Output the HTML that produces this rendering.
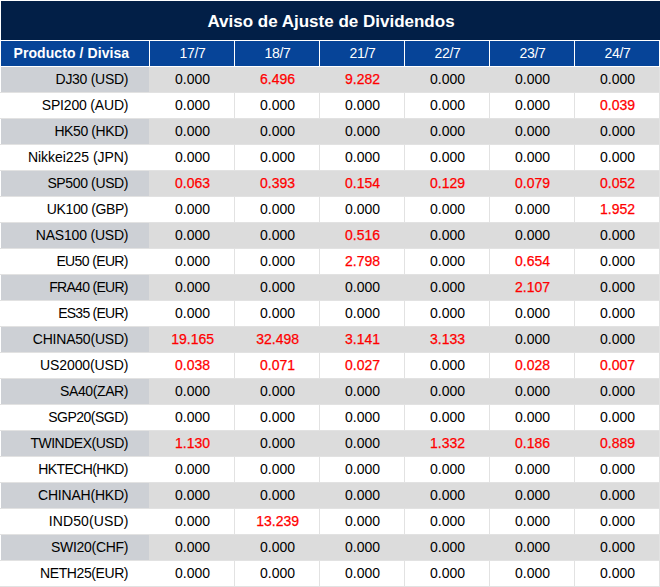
<!DOCTYPE html>
<html><head><meta charset="utf-8"><style>
*{margin:0;padding:0;box-sizing:border-box}
html,body{width:660px;height:587px;background:#fff;overflow:hidden}
body{position:relative;font-family:"Liberation Sans",sans-serif}
.a{position:absolute}
.title{left:1px;top:1px;width:659px;height:39px;background:#021f47}
.tt{position:absolute;left:0;width:660px;top:0;text-align:center;color:#fff;font-weight:bold;font-size:17px;line-height:1;white-space:nowrap}
.hb{background:#064498;top:41px;height:25px}
.ht{position:absolute;left:0;right:0;text-align:center;color:#fff;font-size:14px;line-height:1;white-space:nowrap}
.g0{background:#cdd0d5}
.g1{background:#dcdcdc}
.vl{background:#e2e2e2;width:1px}
.hl{background:#e2e2e2}
.pn{position:absolute;right:21px;color:#000000;font-size:14px;line-height:1;white-space:nowrap;letter-spacing:-0.3px}
.v{position:absolute;left:0;width:84px;text-align:center;color:#000000;font-size:14px;line-height:1;white-space:nowrap}
.r{color:#ff0000;-webkit-text-stroke:0.25px #ff0000}
</style></head><body>
<div class="a title"><div class="tt" style="top:11.61px">Aviso de Ajuste de Dividendos</div></div>
<div class="a hb" style="left:1px;width:148px"><div class="ht" style="font-weight:bold;text-align:right;right:19.8px;left:auto;letter-spacing:0.08px;top:4.95px">Producto / Divisa</div></div>
<div class="a hb" style="left:150px;width:84px"><div class="ht" style="left:1.2px;top:4.85px;letter-spacing:-0.3px">17/7</div></div>
<div class="a hb" style="left:235px;width:84px"><div class="ht" style="left:1.2px;top:4.85px;letter-spacing:-0.3px">18/7</div></div>
<div class="a hb" style="left:320px;width:84px"><div class="ht" style="left:1.2px;top:4.85px;letter-spacing:-0.3px">21/7</div></div>
<div class="a hb" style="left:405px;width:84px"><div class="ht" style="left:1.2px;top:4.85px;letter-spacing:-0.3px">22/7</div></div>
<div class="a hb" style="left:490px;width:84px"><div class="ht" style="left:1.2px;top:4.85px;letter-spacing:-0.3px">23/7</div></div>
<div class="a hb" style="left:575px;width:84px"><div class="ht" style="left:1.2px;top:4.85px;letter-spacing:-0.3px">24/7</div></div>
<div class="a vl" style="left:234px;top:67px;height:520px"></div>
<div class="a vl" style="left:319px;top:67px;height:520px"></div>
<div class="a vl" style="left:404px;top:67px;height:520px"></div>
<div class="a vl" style="left:489px;top:67px;height:520px"></div>
<div class="a vl" style="left:574px;top:67px;height:520px"></div>
<div class="a vl" style="left:659px;top:67px;height:520px"></div>
<div class="a hl" style="left:0;top:92px;width:660px;height:1px"></div>
<div class="a hl" style="left:0;top:118px;width:660px;height:1px"></div>
<div class="a hl" style="left:0;top:144px;width:660px;height:1px"></div>
<div class="a hl" style="left:0;top:170px;width:660px;height:1px"></div>
<div class="a hl" style="left:0;top:196px;width:660px;height:1px"></div>
<div class="a hl" style="left:0;top:222px;width:660px;height:1px"></div>
<div class="a hl" style="left:0;top:248px;width:660px;height:1px"></div>
<div class="a hl" style="left:0;top:274px;width:660px;height:1px"></div>
<div class="a hl" style="left:0;top:300px;width:660px;height:1px"></div>
<div class="a hl" style="left:0;top:326px;width:660px;height:1px"></div>
<div class="a hl" style="left:0;top:352px;width:660px;height:1px"></div>
<div class="a hl" style="left:0;top:378px;width:660px;height:1px"></div>
<div class="a hl" style="left:0;top:404px;width:660px;height:1px"></div>
<div class="a hl" style="left:0;top:430px;width:660px;height:1px"></div>
<div class="a hl" style="left:0;top:456px;width:660px;height:1px"></div>
<div class="a hl" style="left:0;top:482px;width:660px;height:1px"></div>
<div class="a hl" style="left:0;top:508px;width:660px;height:1px"></div>
<div class="a hl" style="left:0;top:534px;width:660px;height:1px"></div>
<div class="a hl" style="left:0;top:560px;width:660px;height:1px"></div>
<div class="a hl" style="left:0;top:586px;width:660px;height:1px"></div>
<div class="a g0" style="left:1px;top:67px;width:148px;height:25px"></div>
<div class="a g1" style="left:149px;top:67px;width:510px;height:25px"></div>
<div class="pn" style="right:531.78px;top:72.45px;letter-spacing:-0.278px">DJ30 (USD)</div>
<div class="v" style="left:150.6px;top:72.45px">0.000</div>
<div class="v r" style="left:235.6px;top:72.45px">6.496</div>
<div class="v r" style="left:320.6px;top:72.45px">9.282</div>
<div class="v" style="left:405.6px;top:72.45px">0.000</div>
<div class="v" style="left:490.6px;top:72.45px">0.000</div>
<div class="v" style="left:575.6px;top:72.45px">0.000</div>
<div class="pn" style="right:531.68px;top:98.45px;letter-spacing:-0.182px">SPI200 (AUD)</div>
<div class="v" style="left:150.6px;top:98.45px">0.000</div>
<div class="v" style="left:235.6px;top:98.45px">0.000</div>
<div class="v" style="left:320.6px;top:98.45px">0.000</div>
<div class="v" style="left:405.6px;top:98.45px">0.000</div>
<div class="v" style="left:490.6px;top:98.45px">0.000</div>
<div class="v r" style="left:575.6px;top:98.45px">0.039</div>
<div class="a g0" style="left:1px;top:119px;width:148px;height:25px"></div>
<div class="a g1" style="left:149px;top:119px;width:510px;height:25px"></div>
<div class="pn" style="right:531.91px;top:124.45px;letter-spacing:-0.411px">HK50 (HKD)</div>
<div class="v" style="left:150.6px;top:124.45px">0.000</div>
<div class="v" style="left:235.6px;top:124.45px">0.000</div>
<div class="v" style="left:320.6px;top:124.45px">0.000</div>
<div class="v" style="left:405.6px;top:124.45px">0.000</div>
<div class="v" style="left:490.6px;top:124.45px">0.000</div>
<div class="v" style="left:575.6px;top:124.45px">0.000</div>
<div class="pn" style="right:531.54px;top:150.45px;letter-spacing:-0.043px">Nikkei225 (JPN)</div>
<div class="v" style="left:150.6px;top:150.45px">0.000</div>
<div class="v" style="left:235.6px;top:150.45px">0.000</div>
<div class="v" style="left:320.6px;top:150.45px">0.000</div>
<div class="v" style="left:405.6px;top:150.45px">0.000</div>
<div class="v" style="left:490.6px;top:150.45px">0.000</div>
<div class="v" style="left:575.6px;top:150.45px">0.000</div>
<div class="a g0" style="left:1px;top:171px;width:148px;height:25px"></div>
<div class="a g1" style="left:149px;top:171px;width:510px;height:25px"></div>
<div class="pn" style="right:531.87px;top:176.45px;letter-spacing:-0.370px">SP500 (USD)</div>
<div class="v r" style="left:150.6px;top:176.45px">0.063</div>
<div class="v r" style="left:235.6px;top:176.45px">0.393</div>
<div class="v r" style="left:320.6px;top:176.45px">0.154</div>
<div class="v r" style="left:405.6px;top:176.45px">0.129</div>
<div class="v r" style="left:490.6px;top:176.45px">0.079</div>
<div class="v r" style="left:575.6px;top:176.45px">0.052</div>
<div class="pn" style="right:531.89px;top:202.45px;letter-spacing:-0.390px">UK100 (GBP)</div>
<div class="v" style="left:150.6px;top:202.45px">0.000</div>
<div class="v" style="left:235.6px;top:202.45px">0.000</div>
<div class="v" style="left:320.6px;top:202.45px">0.000</div>
<div class="v" style="left:405.6px;top:202.45px">0.000</div>
<div class="v" style="left:490.6px;top:202.45px">0.000</div>
<div class="v r" style="left:575.6px;top:202.45px">1.952</div>
<div class="a g0" style="left:1px;top:223px;width:148px;height:25px"></div>
<div class="a g1" style="left:149px;top:223px;width:510px;height:25px"></div>
<div class="pn" style="right:531.70px;top:228.45px;letter-spacing:-0.200px">NAS100 (USD)</div>
<div class="v" style="left:150.6px;top:228.45px">0.000</div>
<div class="v" style="left:235.6px;top:228.45px">0.000</div>
<div class="v r" style="left:320.6px;top:228.45px">0.516</div>
<div class="v" style="left:405.6px;top:228.45px">0.000</div>
<div class="v" style="left:490.6px;top:228.45px">0.000</div>
<div class="v" style="left:575.6px;top:228.45px">0.000</div>
<div class="pn" style="right:532.13px;top:254.45px;letter-spacing:-0.633px">EU50 (EUR)</div>
<div class="v" style="left:150.6px;top:254.45px">0.000</div>
<div class="v" style="left:235.6px;top:254.45px">0.000</div>
<div class="v r" style="left:320.6px;top:254.45px">2.798</div>
<div class="v" style="left:405.6px;top:254.45px">0.000</div>
<div class="v r" style="left:490.6px;top:254.45px">0.654</div>
<div class="v" style="left:575.6px;top:254.45px">0.000</div>
<div class="a g0" style="left:1px;top:275px;width:148px;height:25px"></div>
<div class="a g1" style="left:149px;top:275px;width:510px;height:25px"></div>
<div class="pn" style="right:532.20px;top:280.45px;letter-spacing:-0.700px">FRA40 (EUR)</div>
<div class="v" style="left:150.6px;top:280.45px">0.000</div>
<div class="v" style="left:235.6px;top:280.45px">0.000</div>
<div class="v" style="left:320.6px;top:280.45px">0.000</div>
<div class="v" style="left:405.6px;top:280.45px">0.000</div>
<div class="v r" style="left:490.6px;top:280.45px">2.107</div>
<div class="v" style="left:575.6px;top:280.45px">0.000</div>
<div class="pn" style="right:532.24px;top:306.45px;letter-spacing:-0.744px">ES35 (EUR)</div>
<div class="v" style="left:150.6px;top:306.45px">0.000</div>
<div class="v" style="left:235.6px;top:306.45px">0.000</div>
<div class="v" style="left:320.6px;top:306.45px">0.000</div>
<div class="v" style="left:405.6px;top:306.45px">0.000</div>
<div class="v" style="left:490.6px;top:306.45px">0.000</div>
<div class="v" style="left:575.6px;top:306.45px">0.000</div>
<div class="a g0" style="left:1px;top:327px;width:148px;height:25px"></div>
<div class="a g1" style="left:149px;top:327px;width:510px;height:25px"></div>
<div class="pn" style="right:531.71px;top:332.45px;letter-spacing:-0.209px">CHINA50(USD)</div>
<div class="v r" style="left:150.6px;top:332.45px">19.165</div>
<div class="v r" style="left:235.6px;top:332.45px">32.498</div>
<div class="v r" style="left:320.6px;top:332.45px">3.141</div>
<div class="v r" style="left:405.6px;top:332.45px">3.133</div>
<div class="v" style="left:490.6px;top:332.45px">0.000</div>
<div class="v" style="left:575.6px;top:332.45px">0.000</div>
<div class="pn" style="right:531.61px;top:358.45px;letter-spacing:-0.110px">US2000(USD)</div>
<div class="v r" style="left:150.6px;top:358.45px">0.038</div>
<div class="v r" style="left:235.6px;top:358.45px">0.071</div>
<div class="v r" style="left:320.6px;top:358.45px">0.027</div>
<div class="v" style="left:405.6px;top:358.45px">0.000</div>
<div class="v r" style="left:490.6px;top:358.45px">0.028</div>
<div class="v r" style="left:575.6px;top:358.45px">0.007</div>
<div class="a g0" style="left:1px;top:379px;width:148px;height:25px"></div>
<div class="a g1" style="left:149px;top:379px;width:510px;height:25px"></div>
<div class="pn" style="right:531.89px;top:384.45px;letter-spacing:-0.388px">SA40(ZAR)</div>
<div class="v" style="left:150.6px;top:384.45px">0.000</div>
<div class="v" style="left:235.6px;top:384.45px">0.000</div>
<div class="v" style="left:320.6px;top:384.45px">0.000</div>
<div class="v" style="left:405.6px;top:384.45px">0.000</div>
<div class="v" style="left:490.6px;top:384.45px">0.000</div>
<div class="v" style="left:575.6px;top:384.45px">0.000</div>
<div class="pn" style="right:532.00px;top:410.45px;letter-spacing:-0.500px">SGP20(SGD)</div>
<div class="v" style="left:150.6px;top:410.45px">0.000</div>
<div class="v" style="left:235.6px;top:410.45px">0.000</div>
<div class="v" style="left:320.6px;top:410.45px">0.000</div>
<div class="v" style="left:405.6px;top:410.45px">0.000</div>
<div class="v" style="left:490.6px;top:410.45px">0.000</div>
<div class="v" style="left:575.6px;top:410.45px">0.000</div>
<div class="a g0" style="left:1px;top:431px;width:148px;height:25px"></div>
<div class="a g1" style="left:149px;top:431px;width:510px;height:25px"></div>
<div class="pn" style="right:531.98px;top:436.45px;letter-spacing:-0.482px">TWINDEX(USD)</div>
<div class="v r" style="left:150.6px;top:436.45px">1.130</div>
<div class="v" style="left:235.6px;top:436.45px">0.000</div>
<div class="v" style="left:320.6px;top:436.45px">0.000</div>
<div class="v r" style="left:405.6px;top:436.45px">1.332</div>
<div class="v r" style="left:490.6px;top:436.45px">0.186</div>
<div class="v r" style="left:575.6px;top:436.45px">0.889</div>
<div class="pn" style="right:532.13px;top:462.45px;letter-spacing:-0.630px">HKTECH(HKD)</div>
<div class="v" style="left:150.6px;top:462.45px">0.000</div>
<div class="v" style="left:235.6px;top:462.45px">0.000</div>
<div class="v" style="left:320.6px;top:462.45px">0.000</div>
<div class="v" style="left:405.6px;top:462.45px">0.000</div>
<div class="v" style="left:490.6px;top:462.45px">0.000</div>
<div class="v" style="left:575.6px;top:462.45px">0.000</div>
<div class="a g0" style="left:1px;top:483px;width:148px;height:25px"></div>
<div class="a g1" style="left:149px;top:483px;width:510px;height:25px"></div>
<div class="pn" style="right:531.71px;top:488.45px;letter-spacing:-0.210px">CHINAH(HKD)</div>
<div class="v" style="left:150.6px;top:488.45px">0.000</div>
<div class="v" style="left:235.6px;top:488.45px">0.000</div>
<div class="v" style="left:320.6px;top:488.45px">0.000</div>
<div class="v" style="left:405.6px;top:488.45px">0.000</div>
<div class="v" style="left:490.6px;top:488.45px">0.000</div>
<div class="v" style="left:575.6px;top:488.45px">0.000</div>
<div class="pn" style="right:531.36px;top:514.45px;letter-spacing:0.144px">IND50(USD)</div>
<div class="v" style="left:150.6px;top:514.45px">0.000</div>
<div class="v r" style="left:235.6px;top:514.45px">13.239</div>
<div class="v" style="left:320.6px;top:514.45px">0.000</div>
<div class="v" style="left:405.6px;top:514.45px">0.000</div>
<div class="v" style="left:490.6px;top:514.45px">0.000</div>
<div class="v" style="left:575.6px;top:514.45px">0.000</div>
<div class="a g0" style="left:1px;top:535px;width:148px;height:25px"></div>
<div class="a g1" style="left:149px;top:535px;width:510px;height:25px"></div>
<div class="pn" style="right:531.78px;top:540.45px;letter-spacing:-0.278px">SWI20(CHF)</div>
<div class="v" style="left:150.6px;top:540.45px">0.000</div>
<div class="v" style="left:235.6px;top:540.45px">0.000</div>
<div class="v" style="left:320.6px;top:540.45px">0.000</div>
<div class="v" style="left:405.6px;top:540.45px">0.000</div>
<div class="v" style="left:490.6px;top:540.45px">0.000</div>
<div class="v" style="left:575.6px;top:540.45px">0.000</div>
<div class="pn" style="right:531.91px;top:566.45px;letter-spacing:-0.410px">NETH25(EUR)</div>
<div class="v" style="left:150.6px;top:566.45px">0.000</div>
<div class="v" style="left:235.6px;top:566.45px">0.000</div>
<div class="v" style="left:320.6px;top:566.45px">0.000</div>
<div class="v" style="left:405.6px;top:566.45px">0.000</div>
<div class="v" style="left:490.6px;top:566.45px">0.000</div>
<div class="v" style="left:575.6px;top:566.45px">0.000</div>
</body></html>
